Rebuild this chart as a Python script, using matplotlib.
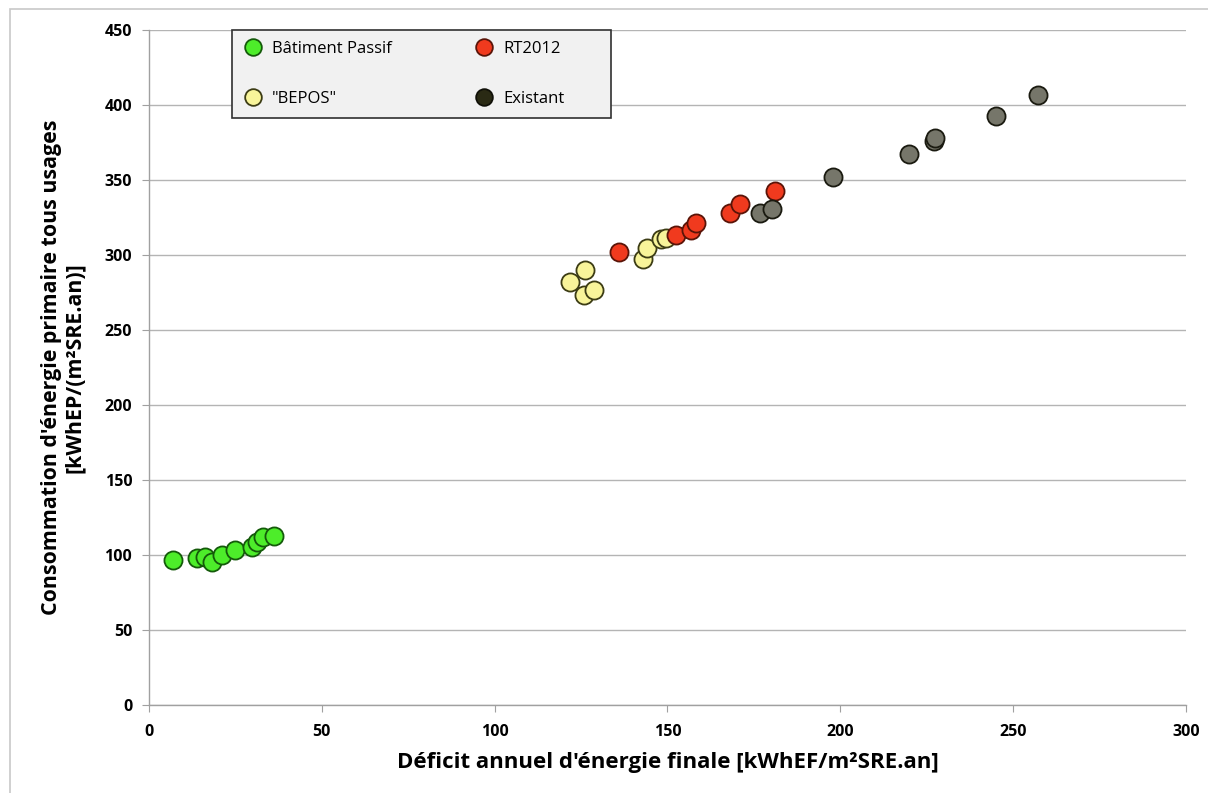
import matplotlib
matplotlib.use("Agg")
import matplotlib.pyplot as plt
from matplotlib.lines import Line2D
from matplotlib.patches import Rectangle

plt.rcParams['font.family'] = ['Open Sans', 'DejaVu Sans']

# Data
passif_x = [6.9, 13.8, 16.2, 18.1, 21.0, 24.9, 29.7, 31.2, 33.0, 36.2]
passif_y = [96.7, 98.0, 98.7, 95.5, 100.0, 103.3, 105.5, 108.9, 112.2, 112.7]

bepos_x = [121.8, 126.1, 125.9, 128.8, 143.0, 144.1, 148.0, 149.5]
bepos_y = [282.2, 290.0, 273.3, 276.7, 297.5, 304.4, 310.4, 311.5]

rt2012_x = [136.0, 152.4, 156.7, 158.2, 168.1, 171.0, 181.1]
rt2012_y = [302.2, 313.3, 316.7, 321.5, 327.8, 334.0, 342.9]

exist_x = [176.9, 180.1, 197.9, 219.9, 227.1, 227.3, 245.0, 257.1]
exist_y = [328.2, 330.4, 351.8, 367.3, 376.0, 378.0, 392.9, 406.7]

xticks = [0, 50, 100, 150, 200, 250, 300]
yticks = [0, 50, 100, 150, 200, 250, 300, 350, 400, 450]

fig = plt.figure(figsize=(12.08, 7.93), dpi=100)
fig.patches.append(Rectangle((0.008, -0.01), 1.1, 0.999, transform=fig.transFigure,
                             fill=False, edgecolor='#c8c8c8', linewidth=1.2))
ax = fig.add_axes([0.1233, 0.111, 0.8585, 0.8512])

ax.set_xlim(0, 300)
ax.set_ylim(0, 450)
ax.set_xticks(xticks)
ax.set_yticks(yticks)
ax.yaxis.grid(True, color='#b4b4b4', linewidth=1.0)
ax.set_axisbelow(True)
for s in ['top', 'right']:
    ax.spines[s].set_visible(False)
for s in ['left', 'bottom']:
    ax.spines[s].set_color('#a0a0a0')
    ax.spines[s].set_linewidth(1.0)
ax.tick_params(axis='both', direction='out', length=5, color='#a0a0a0',
               labelsize=11.5)
ax.tick_params(axis='x', pad=9)
ax.tick_params(axis='y', pad=7)
for lab in ax.get_xticklabels() + ax.get_yticklabels():
    lab.set_fontweight('bold')

kw = dict(s=170, linewidths=1.3, zorder=3)
ax.scatter(passif_x, passif_y, c='#4ded2a', edgecolors='#145a0a', **kw)
ax.scatter(bepos_x, bepos_y, c='#f8f49a', edgecolors='#3c3c14', **kw)
ax.scatter(rt2012_x, rt2012_y, c='#f03a1e', edgecolors='#5a1408', **kw)
ax.scatter(exist_x, exist_y, c='#76766a', edgecolors='#1a1a10', **kw)

ax.set_xlabel("Déficit annuel d'énergie finale [kWhEF/m²SRE.an]",
              fontsize=16, fontweight='bold', labelpad=8)
ax.set_ylabel("Consommation d'énergie primaire tous usages\n[kWhEP/(m²SRE.an)]",
              fontsize=15.4, fontweight='bold', labelpad=14, linespacing=1.15)

# legend frame
ax.add_patch(Rectangle((0.080, 1.0 - 88 / 675), 0.366, 88 / 675,
                       transform=ax.transAxes, facecolor='#f1f1f1',
                       edgecolor='#303030', linewidth=1.2, zorder=4,
                       clip_on=False))

handles = [
    Line2D([], [], marker='o', linestyle='none', markersize=12,
           markerfacecolor='#4ded2a', markeredgecolor='#145a0a', markeredgewidth=1.3),
    Line2D([], [], marker='o', linestyle='none', markersize=12,
           markerfacecolor='#f8f49a', markeredgecolor='#3c3c14', markeredgewidth=1.3),
    Line2D([], [], marker='o', linestyle='none', markersize=12,
           markerfacecolor='#f03a1e', markeredgecolor='#5a1408', markeredgewidth=1.3),
    Line2D([], [], marker='o', linestyle='none', markersize=12,
           markerfacecolor='#2a2a14', markeredgecolor='#101008', markeredgewidth=1.3),
]
labels = ['Bâtiment Passif', '"BEPOS"', 'RT2012', 'Existant']
leg = ax.legend(handles, labels, ncol=2, loc='upper left',
                bbox_to_anchor=(0.085, 0.993), fontsize=12,
                labelspacing=2.05, handletextpad=0.55, columnspacing=4.95,
                borderpad=0.35, handlelength=1.2, frameon=False,
                borderaxespad=0.0)
leg.set_zorder(5)

fig.savefig('out.png', dpi=100)
